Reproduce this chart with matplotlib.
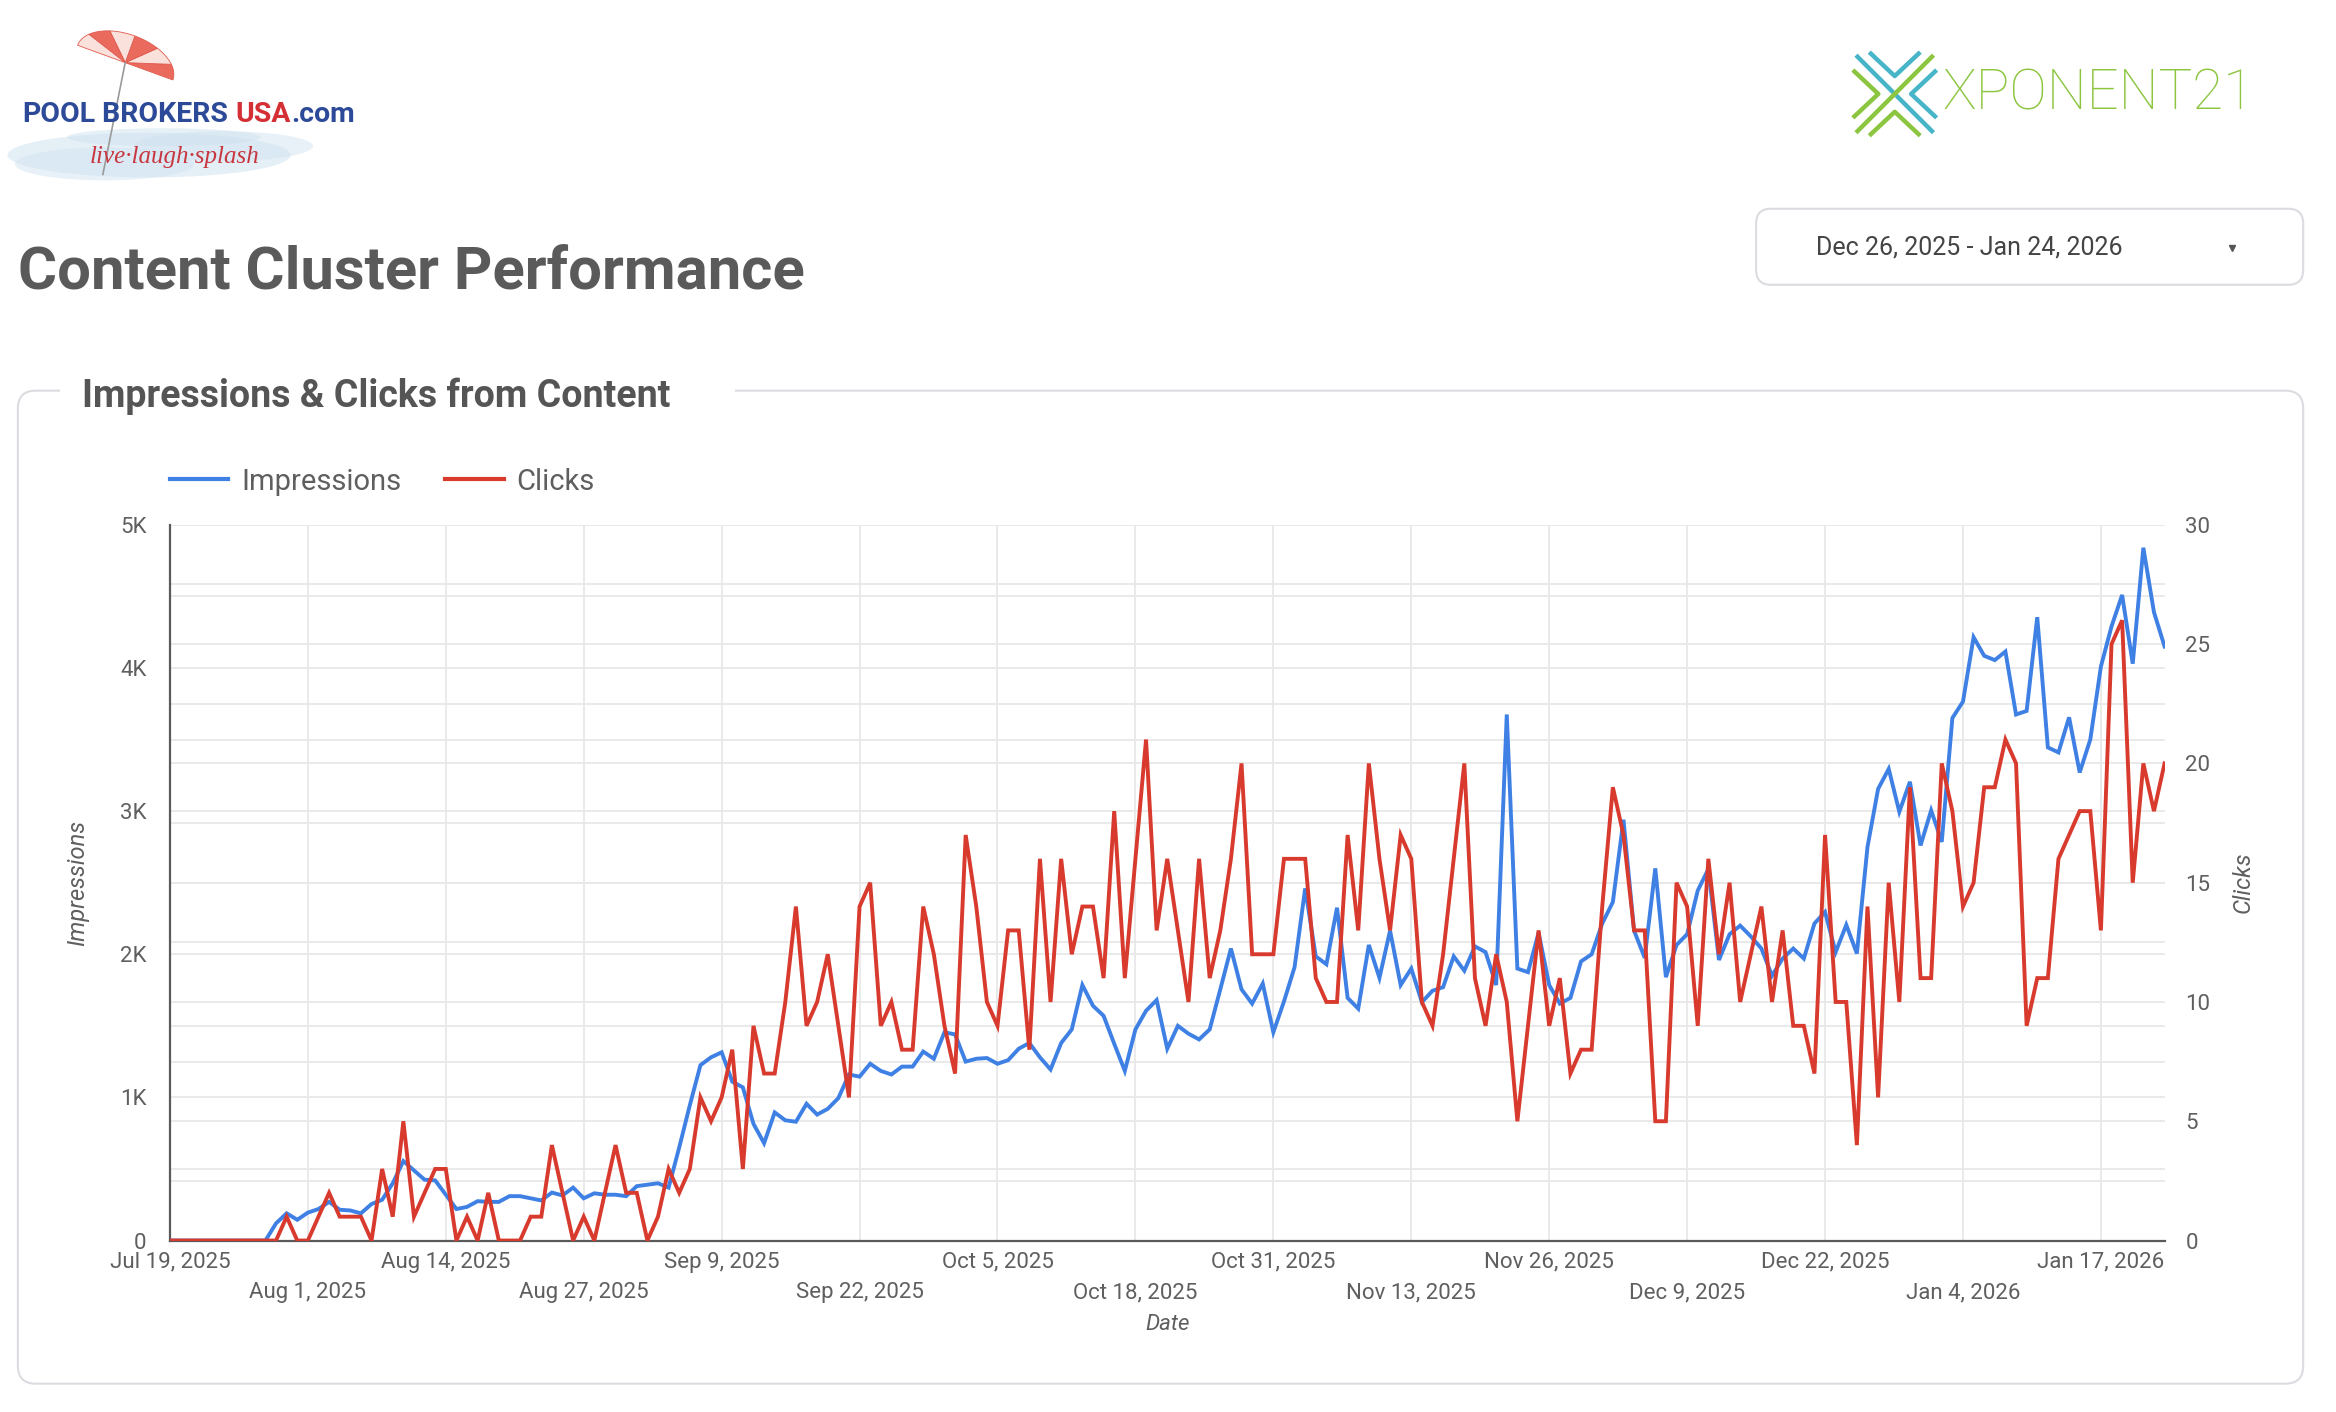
import numpy as np
import pandas as pd
import matplotlib
matplotlib.use("Agg")
import matplotlib.pyplot as plt
from matplotlib import font_manager
from matplotlib.patches import FancyBboxPatch, Rectangle, Polygon, Ellipse
from matplotlib.lines import Line2D

# daily series, starting Jul 19, 2025
start_date = "2025-07-19"

impressions = [
    0, 0, 0, 0, 0, 0, 0, 0, 0, 0,
    120, 190, 145, 195, 220, 270, 215, 210, 190, 255,
    285, 400, 555, 490, 425, 420, 320, 220, 235, 275,
    270, 270, 310, 310, 295, 280, 335, 315, 370, 295,
    330, 320, 320, 310, 380, 390, 400, 370, 650, 945,
    1225, 1280, 1315, 1110, 1070, 815, 680, 895, 840, 830,
    955, 880, 920, 995, 1160, 1145, 1235, 1185, 1160, 1215,
    1215, 1320, 1270, 1455, 1440, 1250, 1270, 1275, 1235, 1260,
    1340, 1380, 1280, 1195, 1380, 1475, 1785, 1640, 1570, 1375,
    1185, 1475, 1605, 1680, 1340, 1500, 1445, 1405, 1475, 1755,
    2040, 1755, 1655, 1795, 1455, 1670, 1910, 2460, 1985, 1930,
    2325, 1695, 1620, 2065, 1835, 2165, 1785, 1900, 1665, 1745,
    1770, 1985, 1885, 2055, 2015, 1785, 3675, 1900, 1875, 2150,
    1785, 1655, 1695, 1950, 2000, 2215, 2365, 2940, 2165, 1975,
    2600, 1840, 2065, 2140, 2445, 2595, 1960, 2140, 2200, 2125,
    2040, 1850, 1970, 2040, 1970, 2215, 2295, 2015, 2205, 2005,
    2750, 3155, 3295, 2995, 3205, 2760, 3005, 2785, 3650, 3765,
    4215, 4085, 4055, 4115, 3675, 3700, 4355, 3445, 3410, 3655,
    3270, 3500, 4010, 4290, 4510, 4030, 4840, 4390, 4150,
]

clicks = [
    0, 0, 0, 0, 0, 0, 0, 0, 0, 0,
    0, 1, 0, 0, 1, 2, 1, 1, 1, 0,
    3, 1, 5, 1, 2, 3, 3, 0, 1, 0,
    2, 0, 0, 0, 1, 1, 4, 2, 0, 1,
    0, 2, 4, 2, 2, 0, 1, 3, 2, 3,
    6, 5, 6, 8, 3, 9, 7, 7, 10, 14,
    9, 10, 12, 9, 6, 14, 15, 9, 10, 8,
    8, 14, 12, 9, 7, 17, 14, 10, 9, 13,
    13, 8, 16, 10, 16, 12, 14, 14, 11, 18,
    11, 16, 21, 13, 16, 13, 10, 16, 11, 13,
    16, 20, 12, 12, 12, 16, 16, 16, 11, 10,
    10, 17, 13, 20, 16, 13, 17, 16, 10, 9,
    12, 16, 20, 11, 9, 12, 10, 5, 9, 13,
    9, 11, 7, 8, 8, 14, 19, 17, 13, 13,
    5, 5, 15, 14, 9, 16, 12, 15, 10, 12,
    14, 10, 13, 9, 9, 7, 17, 10, 10, 4,
    14, 6, 15, 10, 19, 11, 11, 20, 18, 14,
    15, 19, 19, 21, 20, 9, 11, 11, 16, 17,
    18, 18, 13, 25, 26, 15, 20, 18, 20,
]

series_names = ["Impressions", "Clicks"]
imp_ticks = [0, 1000, 2000, 3000, 4000, 5000]
imp_tick_labels = ["0", "1K", "2K", "3K", "4K", "5K"]
click_ticks = [0, 5, 10, 15, 20, 25, 30]

dates = pd.date_range(start_date, periods=len(impressions), freq="D")
tick_dates = pd.date_range("2025-07-19", "2026-01-17", freq="13D")

BLUE = "#3f80e4"
RED = "#d83a2e"
TXT = "#5f5f5f"
GRID = "#e8e8e8"
EDGE = "#dadce0"

names = {f.name for f in font_manager.fontManager.ttflist}
BASE = "Roboto" if "Roboto" in names else "DejaVu Sans"
NARROW = "Liberation Sans Narrow" if "Liberation Sans Narrow" in names else BASE
SCRIPT = "Liberation Serif" if "Liberation Serif" in names else "DejaVu Serif"
plt.rcParams["font.family"] = [BASE, "DejaVu Sans"]

W, H = 1567, 947  # layout units (reference screenshot scale)
fig = plt.figure(figsize=(23.36, 14.12), dpi=100)
fig.patch.set_facecolor("white")

# decoration layer, in layout units, y pointing down
deco = fig.add_axes([0, 0, 1, 1], zorder=0)
deco.set_xlim(0, W)
deco.set_ylim(H, 0)
deco.axis("off")

# --- Pool Brokers logo: soft water wash
for (ex, ey, ew, eh, al) in [(100, 104, 190, 30, 0.55), (70, 110, 120, 22, 0.45),
                             (150, 98, 120, 20, 0.45), (110, 92, 130, 12, 0.5)]:
    deco.add_patch(Ellipse((ex, ey), ew, eh, color="#cfe2f0", alpha=al, lw=0))
# flattened, tilted umbrella canopy
cx, cy, a, b = 84, 42, 34, 19
ang = np.deg2rad(20)
u = np.array([np.cos(ang), np.sin(ang)])
v = np.array([np.sin(ang), -np.cos(ang)])
edges = np.linspace(0, np.pi, 7)
for i in range(6):
    t = np.linspace(edges[i], edges[i + 1], 12)
    pts = [(cx, cy)] + [(cx + a * np.cos(k) * u[0] + b * np.sin(k) * v[0],
                         cy + a * np.cos(k) * u[1] + b * np.sin(k) * v[1]) for k in t]
    col = "#ea6b5e" if i % 2 == 0 else "#fbe1dc"
    deco.add_patch(Polygon(pts, closed=True, facecolor=col, edgecolor="#e05a4d", lw=0.6))
deco.plot([84, 69], [42, 117], color="#9a9a9a", lw=1.2)

r = fig.canvas.get_renderer()
x0 = 15
for piece, col in [("POOL", "#2c4a98"), (" BROKERS ", "#2c4a98"), ("USA", "#d32f35"), (".com", "#2c4a98")]:
    t = deco.text(x0, 77, piece, fontsize=20.5, fontweight="bold", color=col,
                  family=NARROW, va="center", ha="left")
    bb = t.get_window_extent(renderer=r)
    x0 += bb.width / fig.bbox.width * W
deco.text(60, 105, "live·laugh·splash", fontsize=18, style="italic",
          color="#c8363f", family=SCRIPT, va="center", ha="left")

# --- Xponent21 logo
green, teal = "#8cc640", "#47b5c8"
lw_logo = 3.2
deco.plot([1245, 1297], [37, 89], color=teal, lw=lw_logo, solid_capstyle="butt")
deco.plot([1297, 1245], [37, 89], color=green, lw=lw_logo, solid_capstyle="butt")
deco.plot([1244, 1260, 1244], [48, 63, 78], color=green, lw=lw_logo)
deco.plot([1298, 1282, 1298], [48, 63, 78], color=teal, lw=lw_logo)
deco.plot([1255, 1271, 1287], [36, 51, 36], color=teal, lw=lw_logo)
deco.plot([1255, 1271, 1287], [90, 75, 90], color=green, lw=lw_logo)
deco.text(1303, 63, "XPONENT21", fontsize=40.5, fontweight="light", color="#8cc640",
          va="center", ha="left")

# --- page title and date picker
deco.text(12, 183, "Content Cluster Performance", fontsize=43, fontweight="bold",
          color="#5a5a5a", va="center", ha="left")
deco.add_patch(FancyBboxPatch((1178, 140), 367, 51, boxstyle="round,pad=0,rounding_size=10",
                              facecolor="white", edgecolor=EDGE, lw=1.5))
deco.text(1218, 166, "Dec 26, 2025 - Jan 24, 2026", fontsize=18, color="#444444",
          va="center", ha="left")
deco.plot([1497], [166], marker="v", markersize=5, color="#555555")

# --- chart card
deco.add_patch(FancyBboxPatch((12, 262), 1533, 666, boxstyle="round,pad=0,rounding_size=12",
                              facecolor="white", edgecolor=EDGE, lw=1.5))
deco.add_patch(Rectangle((40, 255), 453, 14, facecolor="white", edgecolor="none"))
deco.text(55, 266, "Impressions & Clicks from Content", fontsize=27, fontweight="bold",
          color="#555555", va="center", ha="left")
deco.text(783, 888, "Date", fontsize=16, style="italic", color=TXT, ha="center", va="center")
deco.text(52, 592, "Impressions", fontsize=17, style="italic", color=TXT,
          rotation=90, ha="center", va="center")
deco.text(1505, 592, "Clicks", fontsize=17, style="italic", color=TXT,
          rotation=90, ha="center", va="center")

# --- chart
left, right = 114 / W, 1452 / W
bottom, top = 1 - 832 / H, 1 - 352 / H
ax = fig.add_axes([left, bottom, right - left, top - bottom], zorder=2)
ax.patch.set_alpha(0)
ax2 = ax.twinx()
ax2.set_zorder(3)
ax2.patch.set_alpha(0)

ax.plot(dates, impressions, color=BLUE, lw=2.8, solid_joinstyle="miter")
ax2.plot(dates, clicks, color=RED, lw=2.8, solid_joinstyle="miter")

ax.set_xlim(dates[0], dates[-1])
ax.set_ylim(0, 5000)
ax2.set_ylim(0, 30)

# horizontal grid for both scales lives on the left axis
ratio = 5000 / 30
imp_minor = [v + 500 for v in imp_ticks[:-1]]
click_grid = [c * ratio for c in np.arange(2.5, 30, 2.5)]
ax.set_yticks(imp_ticks, imp_tick_labels)
ax.set_yticks(imp_minor + click_grid, minor=True)
ax.grid(axis="y", which="both", color=GRID, lw=1.3)

# two rows of date labels
lab = [f"{d:%b} {d.day}, {d.year}" for d in tick_dates]
ax.set_xticks(tick_dates[::2], lab[::2])
ax.set_xticks(tick_dates[1::2], lab[1::2], minor=True)
ax.grid(axis="x", which="both", color=GRID, lw=1.3)
ax.tick_params(axis="x", which="major", length=0, pad=8, labelsize=16, labelcolor=TXT)
ax.tick_params(axis="x", which="minor", length=0, pad=30, labelsize=16, labelcolor=TXT)
ax.tick_params(axis="y", which="both", length=0, pad=17, labelsize=16, labelcolor=TXT)
ax.set_axisbelow(True)

ax2.set_yticks(click_ticks, [str(c) for c in click_ticks])
ax2.tick_params(axis="y", length=0, pad=15, labelsize=16, labelcolor=TXT)

for s in ["top", "right"]:
    ax.spines[s].set_visible(False)
for s in ax2.spines.values():
    s.set_visible(False)
ax.spines["left"].set_color("#5a5a5a")
ax.spines["bottom"].set_color("#5a5a5a")
ax.spines["left"].set_linewidth(1.6)
ax.spines["bottom"].set_linewidth(1.6)

handles = [Line2D([], [], color=BLUE, lw=3), Line2D([], [], color=RED, lw=3)]
ax2.legend(handles, series_names, loc="center left", bbox_to_anchor=(114 / W, 1 - 323 / H),
           bbox_transform=fig.transFigure, ncol=2, frameon=False, fontsize=21,
           handlelength=2.0, handletextpad=0.45, columnspacing=1.5, borderpad=0,
           borderaxespad=0, labelcolor=TXT)

fig.savefig("out.png", dpi=100, facecolor="white")
